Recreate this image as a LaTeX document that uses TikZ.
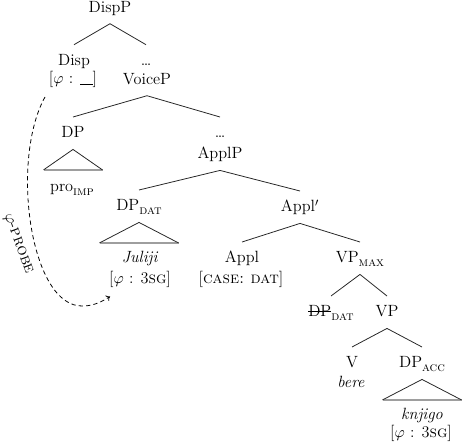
\documentclass[tikz,border=0pt]{standalone}
\usepackage{fontspec}
\usetikzlibrary{arrows.meta}
\newcommand\sbc[1]{\raisebox{-2.3pt}{\fontsize{9}{10}\selectfont\textsc{#1}}}
\newcommand\strk[1]{\setbox0\hbox{#1}\rlap{\rule[3.4pt]{\wd0}{0.5pt}}\box0}
\begin{document}
\begin{tikzpicture}[x=0.7pt,y=-0.7pt,
 every node/.style={font=\fontsize{11.4}{13}\selectfont},
 cat/.style={anchor=base, inner xsep=0pt, inner ysep=7pt, text height=7.5pt, text depth=0.8pt},
 txt/.style={anchor=base, inner sep=0pt},
 edge/.style={line width=0.55pt, black!85},
 tribase/.style={line width=1.2pt, black!38},
 probe/.style={dash pattern=on 3pt off 2.2pt, line width=0.55pt, -{To[length=2.5pt,width=4.5pt]}}]
\useasboundingbox (0,0) rectangle (463,446);
% nodes
\node[cat] (DispP) at (110,12.3) {DispP};
\node[cat] (Disp) at (74,65.7) {Disp};
\node[txt] (fDisp) at (73,84) {[$\varphi$ : \rule[-0.3pt]{0.75em}{0.5pt}]};
\node[cat] (dA) at (146,65.7) {\ldots};
\node[cat] (VoiceP) at (147,84.3) {VoiceP};
\node[cat] (DP1) at (73,138) {DP};
\node[txt] (pro) at (72,192) {pro\sbc{imp}};
\node[cat] (dB) at (220,138) {\ldots};
\node[cat] (ApplP) at (220,159) {ApplP};
\node[cat] (DPdat) at (139,211) {DP\sbc{dat}};
\node[txt] (Juliji) at (140,263) {\textit{Juliji}};
\node[txt] (fJ) at (140,284) {[$\varphi$ : 3\textsc{sg}]};
\node[cat] (Applbar) at (300,212) {Appl$'$};
\node[cat] (Appl) at (242,263) {Appl};
\node[txt] (case) at (241,284) {[\textsc{case:~dat}]};
\node[cat] (VPmax) at (360,263) {VP\sbc{max}};
\node[cat] (DPtr) at (331,317) {\strk{DP}\sbc{dat}};
\node[cat] (VP) at (387,317) {VP};
\node[cat] (V) at (352,368) {V};
\node[txt] (bere) at (351,388) {\textit{bere}};
\node[cat] (DPacc) at (422,368) {DP\sbc{acc}};
\node[txt] (knjigo) at (422,420) {\textit{knjigo}};
\node[txt] (fK) at (421,438) {[$\varphi$ : 3\textsc{sg}]};
% edges
\draw[edge] (DispP.south) -- (Disp.north);
\draw[edge] (DispP.south) -- (dA.north);
\draw[edge] (VoiceP.south) -- (DP1.north);
\draw[edge] (VoiceP.south) -- (dB.north);
\draw[edge] (ApplP.south) -- (DPdat.north);
\draw[edge] (ApplP.south) -- (Applbar.north);
\draw[edge] (Applbar.south) -- (Appl.north);
\draw[edge] (Applbar.south) -- (VPmax.north);
\draw[edge] (VPmax.south) -- (DPtr.north);
\draw[edge] (VPmax.south) -- (VP.north);
\draw[edge] (VP.south) -- (V.north);
\draw[edge] (VP.south) -- (DPacc.north);
% triangles
\path (DP1.south) ++(-29.5,20.5) coordinate (t1l) (DP1.south) ++(29.5,20.5) coordinate (t1r);
\path (DPdat.south) ++(-39.5,20.5) coordinate (t2l) (DPdat.south) ++(39.5,20.5) coordinate (t2r);
\path (DPacc.south) ++(-39.5,20.5) coordinate (t3l) (DPacc.south) ++(39.5,20.5) coordinate (t3r);
\draw[tribase] (t1l) -- (t1r);
\draw[tribase] (t2l) -- (t2r);
\draw[tribase] (t3l) -- (t3r);
\draw[edge] (t1l) -- (DP1.south) -- (t1r);
\draw[edge] (t2l) -- (DPdat.south) -- (t2r);
\draw[edge] (t3l) -- (DPacc.south) -- (t3r);
% probe arrow
\coordinate (ps) at (45,97);
\coordinate (pb) at (83,306);
\coordinate (pe) at (110,296.5);
\draw[probe] (ps) .. controls (10,160) and (30,308) .. (pb) .. controls (94,306) and (103,301) .. (pe);
\node[rotate=-70, inner sep=0pt] (plabel) at (18,244) {$\varphi$-\textsc{probe}};
\end{tikzpicture}
\end{document}
